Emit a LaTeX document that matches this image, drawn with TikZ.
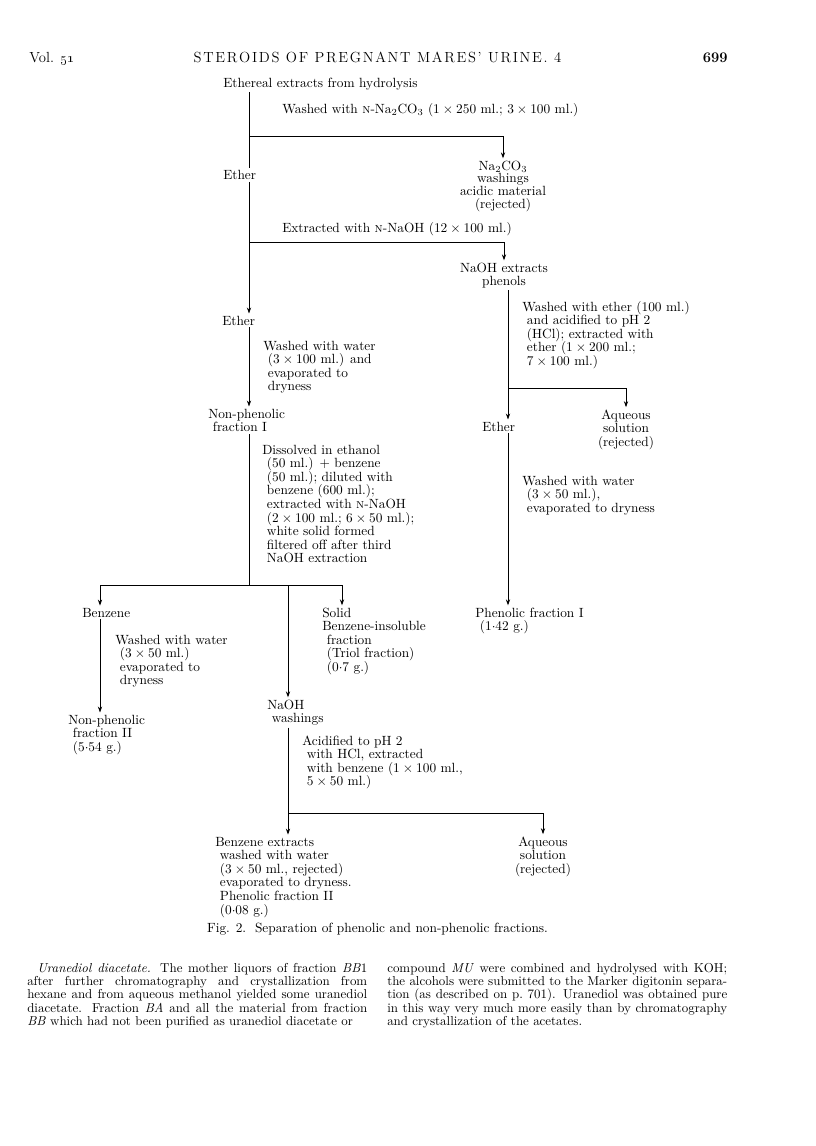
\documentclass[tikz,border=0pt]{standalone}
\usetikzlibrary{arrows.meta}
\newcommand{\hng}{\hspace*{3.5pt}}
\newcommand{\spaced}[1]{\spacedstep#1\relax}
\def\spacedstep#1{\ifx\relax#1\else#1\kern0.115em\relax\expandafter\spacedstep\fi}
\begin{document}
\begin{tikzpicture}[
        x=0.75pt, y=-0.75pt,
        >={Stealth[length=4.5pt,width=3.2pt]},
        lbl/.style={
            inner xsep=0pt,
            inner ysep=1.5pt,
            align=left,
            anchor=base west,
            font=\fontsize{10}{10.2}\selectfont
        },
        mid/.style={lbl, align=center, anchor=base},
        head/.style={inner sep=0pt, font=\fontsize{11}{11}\selectfont},
        para/.style={
            inner sep=0pt,
            anchor=base west,
            text width=255pt,
            align=justify,
            font=\fontsize{9.7}{10}\selectfont
        },
        link/.style={line width=0.6pt},
        arrow/.style={->, line width=0.6pt}
    ]
    \useasboundingbox (0,0) rectangle (816,1146);

    \node[head, anchor=base west] (vol) at (29, 62) {Vol. \oldstylenums{51}};
    \node[head, anchor=base] (title) at (377.5, 62) {\spaced{STEROIDS} \spaced{OF} \spaced{PREGNANT} \spaced{MARES'} \spaced{URINE.} 4};
    \node[head, anchor=base east] (page) at (728, 62) {\textbf{699}};

    \node[lbl] (src) at (223, 87) {Ethereal extracts from hydrolysis};
    \node[lbl] (wash1) at (282, 113) {Washed with \textsc{n}-Na$_2$CO$_3$ ($1\times250$ ml.; $3\times100$ ml.)};
    \node[mid, font=\fontsize{10}{9.6}\selectfont] (carb) at (503, 208.4) {Na$_2$CO$_3$\\washings\\acidic material\\(rejected)};
    \node[lbl] (ether1) at (223, 179.5) {Ether};
    \node[lbl] (ext) at (282, 232) {Extracted with \textsc{n}-NaOH ($12\times100$ ml.)};
    \node[mid] (naoh) at (504, 285.6) {NaOH extracts\\phenols};
    \node[lbl] (ether2) at (222, 325) {Ether};
    \node[lbl] (wash2) at (263, 390.8) {Washed with water\\\hng($3\times100$ ml.) and\\\hng evaporated to\\\hng dryness};
    \node[lbl] (nonphen1) at (208, 431.6) {Non-phenolic\\\hng fraction I};
    \node[lbl] (washeth) at (522, 365.4) {Washed with ether (100 ml.)\\\hng and acidified to pH 2\\\hng(HCl); extracted with\\\hng ether ($1\times200$ ml.;\\\hng $7\times100$ ml.)};
    \node[mid] (aq1) at (626, 446.2) {Aqueous\\solution\\(rejected)};
    \node[lbl] (ether3) at (482, 431) {Ether};
    \node[lbl] (wash4) at (522, 512.2) {Washed with water\\\hng($3\times50$ ml.),\\\hng evaporated to dryness};
    \node[lbl] (phen1) at (475, 630.6) {Phenolic fraction I\\\hng($1{\cdot}42$ g.)};
    \node[lbl] (dissolve) at (262, 562.8) {Dissolved in ethanol\\\hng(50 ml.) $+$ benzene\\\hng(50 ml.); diluted with\\\hng benzene (600 ml.);\\\hng extracted with \textsc{n}-NaOH\\\hng($2\times100$ ml.; $6\times50$ ml.);\\\hng white solid formed\\\hng filtered off after third\\\hng NaOH extraction};
    \node[lbl] (benz) at (82, 617) {Benzene};
    \node[lbl] (wash3) at (115, 684.8) {Washed with water\\\hng($3\times50$ ml.)\\\hng evaporated to\\\hng dryness};
    \node[lbl] (nonphen2) at (68, 751.2) {Non-phenolic\\\hng fraction II\\\hng($5{\cdot}54$ g.)};
    \node[lbl] (solid) at (322, 671.4) {Solid\\Benzene-insoluble\\\hng fraction\\\hng(Triol fraction)\\\hng($0{\cdot}7$ g.)};
    \node[lbl] (naohw) at (267, 722.6) {NaOH\\\hng washings};
    \node[lbl] (acid) at (302, 785.8) {Acidified to pH 2\\\hng with HCl, extracted\\\hng with benzene ($1\times100$ ml.,\\\hng $5\times50$ ml.)};
    \node[lbl] (benzext) at (215, 914) {Benzene extracts\\\hng washed with water\\\hng($3\times50$ ml., rejected)\\\hng evaporated to dryness.\\\hng Phenolic fraction II\\\hng($0{\cdot}08$ g.)};
    \node[mid] (aq2) at (543, 873.2) {Aqueous\\solution\\(rejected)};

    \coordinate (t1) at (249, 136);
    \coordinate (t2) at (249, 242);
    \coordinate (t3) at (249, 585);
    \coordinate (t4) at (100, 585);
    \coordinate (t5) at (288, 585);
    \coordinate (t6) at (342, 585);
    \coordinate (t7) at (288, 813);
    \coordinate (t8) at (508, 388);

    \draw[link] (src.south -| t1) -- (ether1.north -| t1);
    \draw[arrow] (t1) -| (carb.north);
    \draw[arrow] (ether1.south -| t1) -- (ether2.north -| t1);
    \draw[arrow] (t2) -| (naoh.north);
    \draw[arrow] (ether2.south -| t1) -- (nonphen1.north -| t1);
    \draw[link] (nonphen1.south -| t1) -- (t3);
    \draw[link] (t4) -- (t6);
    \draw[arrow] (t4) -- (benz.north -| t4);
    \draw[arrow] (t5) -- (naohw.north -| t5);
    \draw[arrow] (t6) -- (solid.north -| t6);
    \draw[arrow] (benz.south -| t4) -- (nonphen2.north -| t4);
    \draw[link] (naohw.south -| t5) -- (t7);
    \draw[arrow] (t7) -- (benzext.north -| t7);
    \draw[arrow] (t7) -| (aq2.north);
    \draw[link] (naoh.south -| t8) -- (t8);
    \draw[arrow] (t8) -| (aq1.north);
    \draw[arrow] (t8) -- (ether3.north -| t8);
    \draw[arrow] (ether3.south -| t8) -- (phen1.north -| t8);

    \node[lbl, anchor=base] (caption) at (377.5, 932) {Fig. 2.\ \ Separation of phenolic and non-phenolic fractions.};

    \node[para] (colleft) at (27, 972) {\parfillskip=0pt\hspace*{7.5pt}\textit{Uranediol diacetate.} The mother liquors of fraction \textit{BB}1\linebreak after further chromatography and crystallization from\linebreak hexane and from aqueous methanol yielded some uranediol\linebreak diacetate. Fraction \textit{BA} and all the material from fraction\linebreak \textit{BB} which had not been purified as uranediol diacetate or};
    \node[para] (colright) at (387, 972) {compound \textit{MU} were combined and hydrolysed with KOH;\linebreak the alcohols were submitted to the Marker digitonin separa-\linebreak tion (as described on p.~701). Uranediol was obtained pure\linebreak in this way very much more easily than by chromatography\linebreak and crystallization of the acetates.};

    \end{tikzpicture}
\end{document}
